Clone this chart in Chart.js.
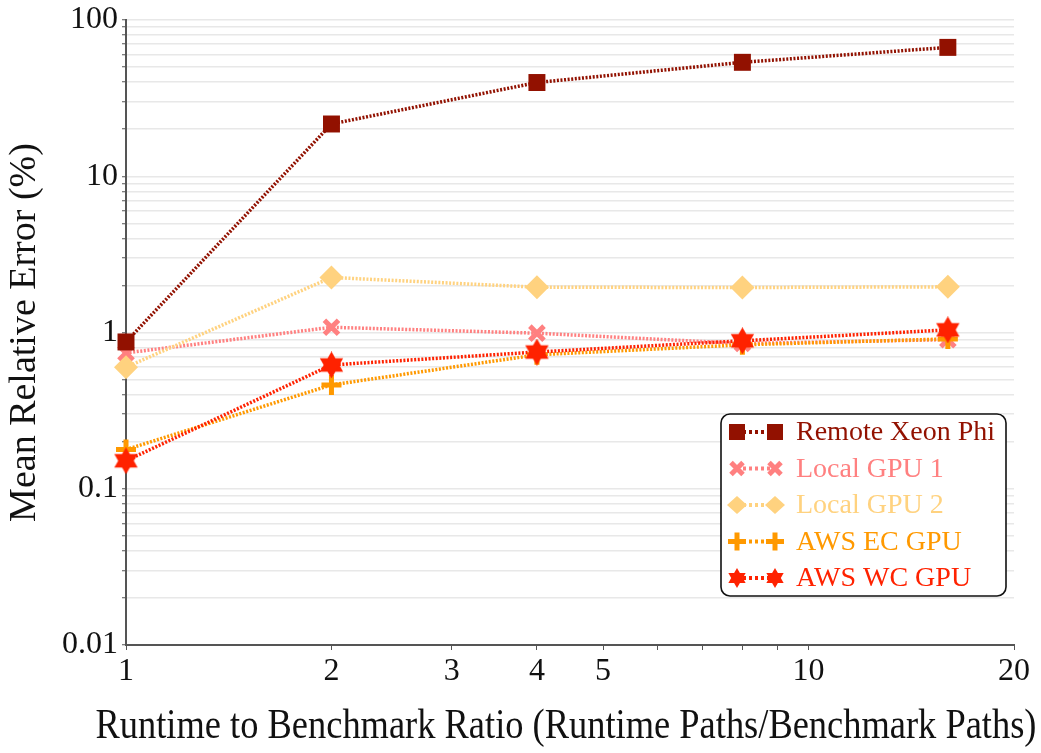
<!DOCTYPE html>
<html>
<head>
<meta charset="utf-8">
<script src="https://cdn.jsdelivr.net/npm/chart.js@4/dist/chart.umd.min.js"></script>
<style>
  html, body { margin: 0; padding: 0; background: #fff; }
  #wrap { width: 1041px; height: 753px; }
</style>
</head>
<body>
<div id="wrap"><canvas id="js--error-chart" width="1041" height="753"></canvas></div>
<script>
// ratio of runtime paths to benchmark paths
const ratios = [1, 2, 4, 8, 16];

const remoteXeonPhi = [0.87, 21.6, 39.8, 53.6, 66.8];
const localGpu1 = [0.74, 1.08, 0.99, 0.85, 0.9];
const localGpu2 = [0.6, 2.25, 1.95, 1.94, 1.96];
const awsEcGpu = [0.178, 0.462, 0.72, 0.834, 0.91];
const awsWcGpu = [0.151, 0.62, 0.75, 0.885, 1.04];

const seriesNames = ["Remote Xeon Phi", "Local GPU 1", "Local GPU 2", "AWS EC GPU", "AWS WC GPU"];
const seriesColors = ["#921100", "#ff8080", "#ffd27f", "#ff9900", "#ff2200"];

const xTicks = [1, 2, 3, 4, 5, 6, 7, 8, 9, 10, 20];
const xLabels = [1, 2, 3, 4, 5, 10, 20];
const yDecades = [0.01, 0.1, 1, 10, 100];

const xTitle = "Runtime to Benchmark Ratio (Runtime Paths/Benchmark Paths)";
const yTitle = "Mean Relative Error (%)";

const font = "'Liberation Serif', 'DejaVu Serif', serif";

// six pointed star, drawn once to a small canvas
function makeStar(size, color) {
    const c = document.createElement("canvas");
    c.width = size;
    c.height = size;
    const g = c.getContext("2d");
    const r = size / 2;
    g.fillStyle = color;
    for (let t = 0; t < 2; t++) {
        g.beginPath();
        for (let k = 0; k < 3; k++) {
            const a = -Math.PI / 2 + t * Math.PI / 3 + k * 2 * Math.PI / 3;
            const px = r + Math.cos(a) * r;
            const py = r + Math.sin(a) * r;
            if (k === 0) g.moveTo(px, py); else g.lineTo(px, py);
        }
        g.closePath();
        g.fill();
    }
    return c;
}

const starBig = makeStar(27, seriesColors[4]);
const starSmall = makeStar(20, seriesColors[4]);

function points(values) {
    return ratios.map((r, i) => ({x: r, y: values[i]}));
}

const styles = [
    {pointStyle: "rect", pointRadius: 12, pointBorderWidth: 0, order: 3},
    {pointStyle: "crossRot", pointRadius: 10, pointBorderWidth: 5, order: 4},
    {pointStyle: "rectRot", pointRadius: 12, pointBorderWidth: 0, order: 2},
    {pointStyle: "cross", pointRadius: 10, pointBorderWidth: 5, order: 1},
    {pointStyle: starBig, pointRadius: 13, pointBorderWidth: 0, order: 0}
];

const allValues = [remoteXeonPhi, localGpu1, localGpu2, awsEcGpu, awsWcGpu];

const datasets = allValues.map((vals, i) => ({
    label: seriesNames[i],
    data: points(vals),
    borderColor: seriesColors[i],
    backgroundColor: seriesColors[i],
    pointBackgroundColor: seriesColors[i],
    pointBorderColor: seriesColors[i],
    borderWidth: 3.5,
    borderDash: [2, 1.6],
    tension: 0,
    clip: false,
    pointStyle: styles[i].pointStyle,
    pointRadius: styles[i].pointRadius,
    pointHoverRadius: styles[i].pointRadius,
    pointBorderWidth: styles[i].pointBorderWidth,
    order: styles[i].order
}));

// legend marker, same shapes as the chart points but smaller
function drawMarker(ctx, i, x, y) {
    const color = seriesColors[i];
    ctx.save();
    ctx.fillStyle = color;
    ctx.strokeStyle = color;
    ctx.setLineDash([]);
    if (i === 0) {
        ctx.fillRect(x - 8, y - 8, 16, 16);
    } else if (i === 1) {
        ctx.lineWidth = 5;
        ctx.beginPath();
        ctx.moveTo(x - 6, y - 6); ctx.lineTo(x + 6, y + 6);
        ctx.moveTo(x - 6, y + 6); ctx.lineTo(x + 6, y - 6);
        ctx.stroke();
    } else if (i === 2) {
        ctx.beginPath();
        ctx.moveTo(x, y - 9); ctx.lineTo(x + 10, y); ctx.lineTo(x, y + 9); ctx.lineTo(x - 10, y);
        ctx.closePath();
        ctx.fill();
    } else if (i === 3) {
        ctx.lineWidth = 5;
        ctx.beginPath();
        ctx.moveTo(x - 9, y); ctx.lineTo(x + 9, y);
        ctx.moveTo(x, y - 9); ctx.lineTo(x, y + 9);
        ctx.stroke();
    } else {
        ctx.drawImage(starSmall, x - starSmall.width / 2, y - starSmall.height / 2);
    }
    ctx.restore();
}

const boxLegend = {
    id: "boxLegend",
    afterDraw(chart) {
        const ctx = chart.ctx;
        const w = 285, h = 182;
        const left = 721;
        const top = 414;
        ctx.save();
        ctx.beginPath();
        ctx.roundRect(left, top, w, h, 9);
        ctx.fillStyle = "#fff";
        ctx.fill();
        ctx.lineWidth = 1.6;
        ctx.strokeStyle = "#111";
        ctx.stroke();
        ctx.font = "28px " + font;
        ctx.textBaseline = "middle";
        seriesNames.forEach((name, i) => {
            const y = top + 18 + i * 36.5;
            ctx.strokeStyle = seriesColors[i];
            ctx.lineWidth = 4;
            ctx.setLineDash([3, 3]);
            ctx.beginPath();
            ctx.moveTo(left + 16, y);
            ctx.lineTo(left + 54, y);
            ctx.stroke();
            drawMarker(ctx, i, left + 16, y);
            drawMarker(ctx, i, left + 54, y);
            ctx.fillStyle = seriesColors[i];
            ctx.fillText(name, left + 75, y + 1);
        });
        ctx.restore();
    }
};

// x title is wider than the plot, so it is drawn here instead of by the scale
const wideXTitle = {
    id: "wideXTitle",
    afterDraw(chart) {
        const ctx = chart.ctx;
        ctx.save();
        ctx.font = "42px " + font;
        ctx.fillStyle = "#111";
        ctx.textAlign = "center";
        ctx.textBaseline = "middle";
        ctx.fillText(xTitle, 566, 727, 941);
        ctx.restore();
    }
};

const config = {
    type: "line",
    data: {datasets: datasets},
    options: {
        responsive: false,
        animation: false,
        events: [],
        layout: {padding: {top: 19, right: 27, left: 0, bottom: 0}},
        plugins: {
            legend: {display: false},
            tooltip: {enabled: false}
        },
        scales: {
            x: {
                type: "logarithmic",
                min: 1,
                max: 20,
                afterBuildTicks: (scale) => {
                    scale.ticks = xTicks.map(v => ({value: v}));
                },
                afterFit: (scale) => { scale.height = 108; },
                border: {display: true, color: "#555", width: 2},
                grid: {drawOnChartArea: false, drawTicks: true, tickLength: 5, tickColor: "#555", tickWidth: 1},
                ticks: {
                    autoSkip: false,
                    maxRotation: 0,
                    padding: 2,
                    color: "#111",
                    font: {family: font, size: 32},
                    callback: (v) => xLabels.includes(v) ? String(v) : ""
                }
            },
            y: {
                type: "logarithmic",
                min: 0.01,
                max: 100,
                afterBuildTicks: (scale) => {
                    const t = [];
                    yDecades.forEach((d, k) => {
                        if (k === yDecades.length - 1) {
                            t.push({value: d});
                            return;
                        }
                        for (let m = 1; m <= 9; m++) t.push({value: Math.round(d * m * 1000) / 1000});
                    });
                    scale.ticks = t;
                },
                afterFit: (scale) => { scale.width = 126; },
                border: {display: true, color: "#555", width: 2},
                grid: {color: "#e8e8e8", lineWidth: 1.5, tickLength: 4, tickColor: "#555", tickWidth: 1},
                ticks: {
                    autoSkip: false,
                    padding: 4,
                    color: "#111",
                    font: {family: font, size: 32, lineHeight: 1},
                    callback: (v) => yDecades.includes(v) ? String(v) : ""
                },
                title: {
                    display: true,
                    text: yTitle,
                    color: "#111",
                    font: {family: font, size: 38},
                    padding: {top: 2, bottom: 0}
                }
            }
        }
    },
    plugins: [boxLegend, wideXTitle]
};

const chart1 = new Chart(document.getElementById("js--error-chart"), config);
</script>
</body>
</html>
